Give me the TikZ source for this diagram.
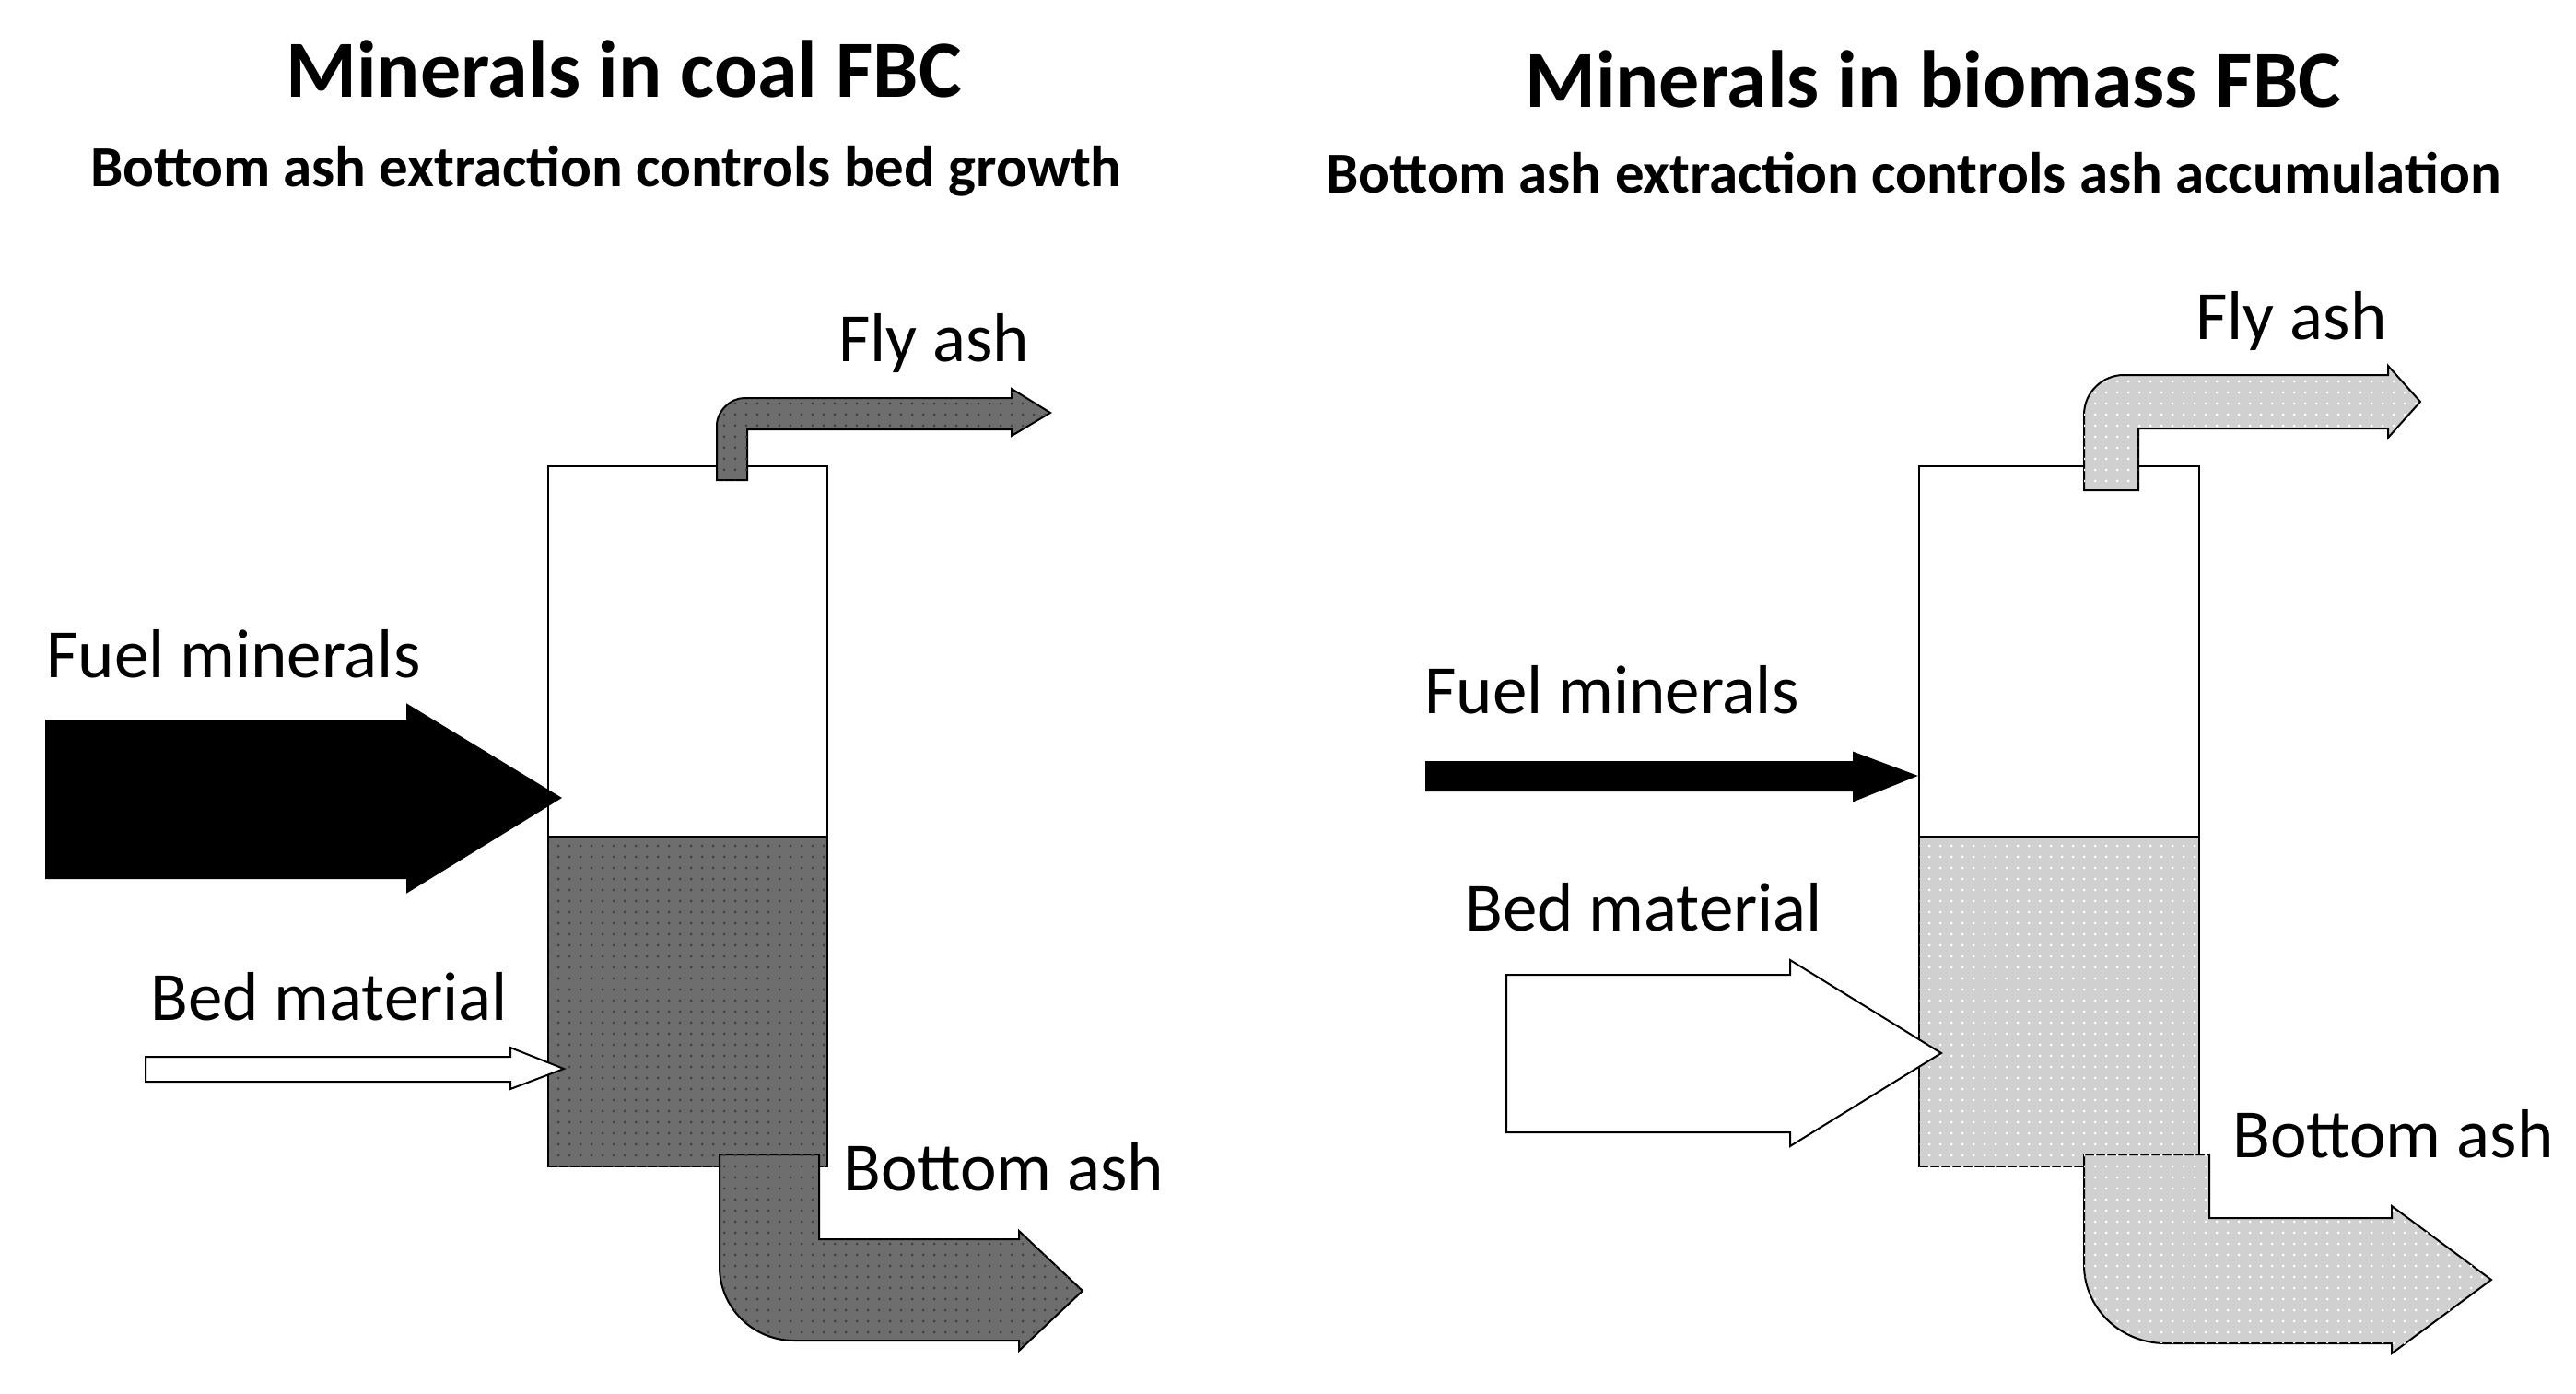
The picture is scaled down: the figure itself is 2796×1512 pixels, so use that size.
\documentclass[tikz,border=0pt]{standalone}
\usepackage{fontspec}
\setmainfont{Carlito}
\usetikzlibrary{patterns,patterns.meta}
\definecolor{darkash}{HTML}{6E6E6E}
\definecolor{lightash}{HTML}{D0D0D0}
\tikzdeclarepattern{
  name=mydots, type=uncolored,
  bottom left={(-.1pt,-.1pt)}, top right={(12pt,12pt)},
  tile size={(12pt,12pt)},
  code={\fill (6pt,6pt) circle (1.5pt);}}
\begin{document}
\begin{tikzpicture}[x=1pt,y=-1pt,
  outl/.style={draw=black,line width=2pt},
  dark/.style={outl,fill=darkash,postaction={pattern=mydots,pattern color=black!75}},
  light/.style={outl,fill=lightash,postaction={pattern=mydots,pattern color=white}},
  lbl/.style={font=\fontsize{75}{80}\selectfont,anchor=base west,inner sep=0},
  ttl/.style={font=\bfseries\fontsize{88}{92}\selectfont,inner sep=0},
  sub/.style={font=\bfseries\fontsize{63}{67}\selectfont,inner sep=0}]
\useasboundingbox (0,0) rectangle (2796,1512);
% titles
\node[ttl] (t1) at (677,75) {Minerals in coal FBC};
\node[sub] (s1) at (658,186) {Bottom ash extraction controls bed growth};
\node[ttl] (t2) at (2098,86) {Minerals in biomass FBC};
\node[sub] (s2) at (2077,188) {Bottom ash extraction controls ash accumulation};
% ---- left panel
\draw[outl,fill=white] (595,506) rectangle (898,908);
\draw[dark] (595,908) rectangle (898,1266);
\draw[dark] (778,521) -- (778,462) .. controls (778,446) and (793,432) .. (808,432) -- (1098,432) -- (1098,422) -- (1140,448) -- (1098,473) -- (1098,466) -- (811,466) -- (811,521) -- cycle;
\draw[dark] (781,1253) -- (889,1253) -- (889,1345) -- (1106,1345) -- (1106,1336) -- (1175,1401) -- (1106,1466) -- (1106,1455) -- (862,1455) .. controls (817,1455) and (781,1419) .. (781,1375) -- cycle;
\draw[outl,fill=black] (50,782) -- (442,782) -- (442,765) -- (608,866) -- (442,968) -- (442,953) -- (50,953) -- cycle;
\draw[outl,fill=white] (158,1147) -- (554,1147) -- (554,1137) -- (612,1160) -- (554,1182) -- (554,1174) -- (158,1174) -- cycle;
\node[lbl] (fa1) at (910,392) {Fly ash};
\node[lbl] (fm1) at (50,735) {Fuel minerals};
\node[lbl] (bm1) at (163,1107) {Bed material};
\node[lbl] (ba1) at (915,1292) {Bottom ash};
% ---- right panel
\draw[outl,fill=white] (2083,506) rectangle (2387,908);
\draw[light] (2083,908) rectangle (2387,1266);
\draw[light] (2262,532) -- (2262,450) .. controls (2262,426) and (2282,407) .. (2305,407) -- (2592,407) -- (2592,397) -- (2627,436) -- (2592,475) -- (2592,465) -- (2321,465) -- (2321,532) -- cycle;
\draw[light] (2262,1253) -- (2398,1253) -- (2398,1322) -- (2596,1322) -- (2596,1309) -- (2704,1389) -- (2596,1469) -- (2596,1458) -- (2350,1458) .. controls (2302,1458) and (2262,1420) .. (2262,1373) -- cycle;
\draw[outl,fill=black] (1548,827) -- (2012,827) -- (2012,817) -- (2079,842) -- (2012,869) -- (2012,858) -- (1548,858) -- cycle;
\draw[outl,fill=white] (1635,1058) -- (1943,1058) -- (1943,1042) -- (2107,1143) -- (1943,1244) -- (1943,1229) -- (1635,1229) -- cycle;
\node[lbl] (fa2) at (2383,368) {Fly ash};
\node[lbl] (fm2) at (1546,774) {Fuel minerals};
\node[lbl] (bm2) at (1590,1010) {Bed material};
\node[lbl] (ba2) at (2423,1256) {Bottom ash};
\end{tikzpicture}
\end{document}
